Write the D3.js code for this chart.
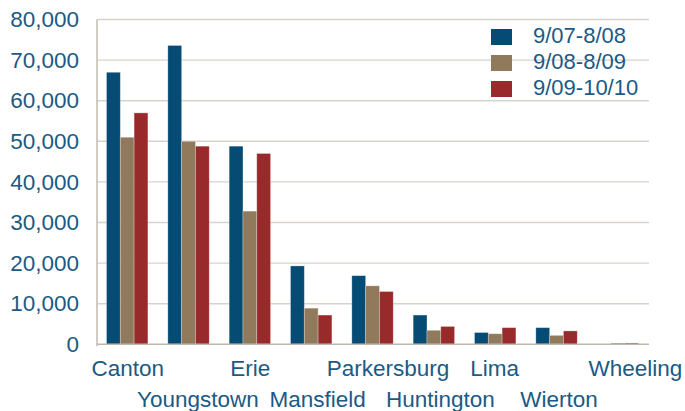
<!DOCTYPE html>
<html>
<head>
<meta charset="utf-8">
<script src="https://cdn.jsdelivr.net/npm/d3@7"></script>
<style>
  html, body { margin: 0; padding: 0; background: #fff; }
  svg { display: block; font-family: "Liberation Sans", Arial, sans-serif; }
</style>
</head>
<body>
<svg id="chart" width="685" height="411"></svg>
<script>
// Ridership by city, three reporting periods
const cities = ["Canton", "Youngstown", "Erie", "Mansfield", "Parkersburg", "Huntington", "Lima", "Wierton", "Wheeling"];
const periods = ["9/07-8/08", "9/08-8/09", "9/09-10/10"];
const period1 = [67000, 73600, 48800, 19300, 16900, 7200, 2900, 4100, 0];
const period2 = [51000, 50000, 32800, 8900, 14400, 3450, 2600, 2200, 300];
const period3 = [57000, 48800, 47000, 7200, 13000, 4400, 4100, 3300, 300];
const yTicks = [0, 10000, 20000, 30000, 40000, 50000, 60000, 70000, 80000];
const colors = ["#064B73", "#917A5C", "#992A2B"];

(function () {
  const seriesValues = [period1, period2, period3];
  const rows = cities.map((c, i) => ({ city: c, values: periods.map((p, j) => ({ period: p, value: seriesValues[j][i], idx: j })) }));

  const svg = d3.select("#chart");
  const plotLeft = 97, plotRight = 649, plotTop = 19.5, plotBottom = 344.3;
  const textColor = "#1B5A84";

  // Horizontal nudges keeping the staggered category labels clear of each other
  const labelNudge = { Youngstown: 9, Mansfield: 6, Parkersburg: 15, Huntington: 6, Lima: -1, Wierton: 2, Wheeling: 17 };

  const x = d3.scaleBand().domain(cities).range([plotLeft, plotRight]).padding(0);
  const bw = x.bandwidth();
  const x1 = d3.scaleBand().domain(periods).range([bw * 0.155, bw * 0.83]).padding(0);
  const y = d3.scaleLinear().domain([0, 80000]).range([plotBottom, plotTop]);

  // Horizontal gridlines
  svg.append("g")
    .selectAll("line")
    .data(yTicks.filter(t => t > 0))
    .join("line")
    .attr("x1", plotLeft).attr("x2", plotRight)
    .attr("y1", d => y(d)).attr("y2", d => y(d))
    .attr("stroke", "#D6D3CB").attr("stroke-width", 1.4);

  // Y axis labels
  const yAxis = d3.axisLeft(y).tickValues(yTicks).tickSize(0).tickPadding(18)
    .tickFormat(d3.format(","));
  const yg = svg.append("g").attr("transform", `translate(${plotLeft},0)`).call(yAxis);
  yg.select(".domain").remove();
  yg.selectAll("text")
    .attr("fill", textColor)
    .attr("font-size", 22.5)
    .attr("font-family", "Liberation Sans, Arial, sans-serif");

  // Bars
  const groups = svg.append("g").selectAll("g")
    .data(rows).join("g")
    .attr("transform", d => `translate(${x(d.city)},0)`);
  groups.selectAll("rect")
    .data(d => d.values.filter(v => v.value > 0))
    .join("rect")
    .attr("x", d => x1(d.period))
    .attr("width", x1.bandwidth())
    .attr("y", d => y(d.value))
    .attr("height", d => y(0) - y(d.value))
    .attr("fill", d => colors[d.idx])
    .attr("stroke", "rgba(255,255,255,0.35)")
    .attr("stroke-width", 0.8);

  // Axis frame: left and bottom lines
  svg.append("line")
    .attr("x1", plotLeft).attr("x2", plotLeft).attr("y1", plotTop).attr("y2", plotBottom + 2)
    .attr("stroke", "#BDB8AC").attr("stroke-width", 1.4);
  svg.append("line")
    .attr("x1", plotLeft).attr("x2", plotRight).attr("y1", plotBottom).attr("y2", plotBottom)
    .attr("stroke", "#BDB8AC").attr("stroke-width", 1.4);

  // Category labels, alternating between two rows
  const xAxis = d3.axisBottom(x).tickSize(0).tickPadding(0);
  const xg = svg.append("g").attr("transform", `translate(0,${plotBottom})`).call(xAxis);
  xg.select(".domain").remove();
  xg.selectAll("text")
    .attr("fill", textColor)
    .attr("font-size", 22.5)
    .attr("font-family", "Liberation Sans, Arial, sans-serif")
    .attr("dy", null)
    .attr("x", d => labelNudge[d] || 0)
    .attr("y", (d, i) => i % 2 === 0 ? 32 : 63);

  // Legend
  const legend = svg.append("g").selectAll("g")
    .data(periods).join("g")
    .attr("transform", (d, i) => `translate(491,${29 + i * 26})`);
  legend.append("rect")
    .attr("width", 21).attr("height", 16)
    .attr("fill", (d, i) => colors[i]);
  legend.append("text")
    .attr("x", 42).attr("y", 14)
    .attr("fill", textColor)
    .attr("font-size", 22)
    .text(d => d);
})();
</script>
</body>
</html>
